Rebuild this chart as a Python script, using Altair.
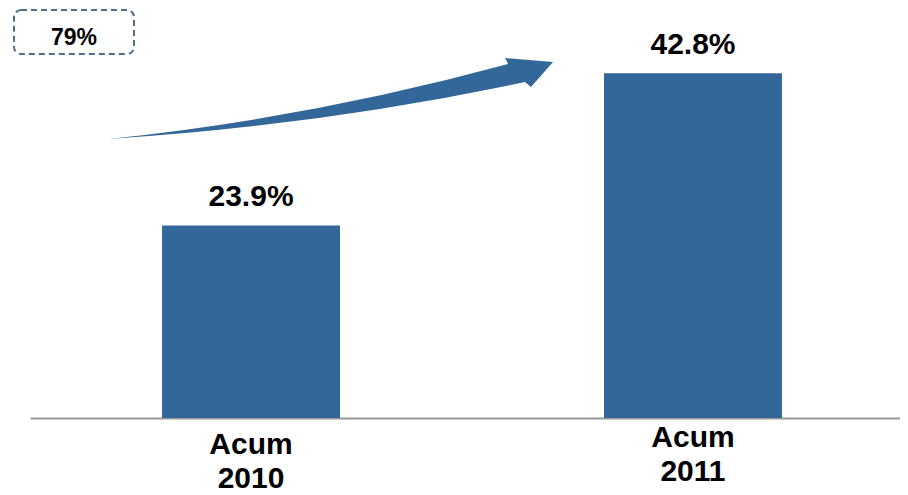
import altair as alt
import pandas as pd

categories = ["Acum 2010", "Acum 2011"]
values = [23.9, 42.8]
labels = ["23.9%", "42.8%"]
growth_label = "79%"

BAR_COLOR = "#336699"
FONT = "Liberation Sans"

df = pd.DataFrame({"cat": categories, "val": values, "lab": labels})

x = alt.X(
    "cat:N",
    sort=categories,
    title=None,
    scale=alt.Scale(paddingInner=0.5973, paddingOuter=0.2829, align=0.528),
    axis=alt.Axis(
        labelExpr="split(datum.label, ' ')",
        labelAngle=0,
        labelFont=FONT,
        labelFontWeight="bold",
        labelFontSize=30,
        labelLineHeight=34,
        labelColor="black",
        labelPadding={"condition": {"test": "datum.value == 'Acum 2011'", "value": 4}, "value": 11},
        ticks=False,
        domainColor="#999999",
        domainWidth=2,
        grid=False,
    ),
)
y = alt.Y("val:Q", scale=alt.Scale(domain=[0, 50.9], nice=False), axis=None)

base = alt.Chart(df)

bars = base.mark_bar(color=BAR_COLOR).encode(x=x, y=y)

text = base.mark_text(
    font=FONT, fontWeight="bold", fontSize=30, dy=-19, baseline="alphabetic", color="black"
).encode(x=x, y=y, text="lab:N")

arrow_path = (
    "M-0.989,0.18 Q-0.1,0.089 0.789,-0.153 L0.776,-0.18 L0.989,-0.162 "
    "L0.891,-0.051 L0.864,-0.073 Q-0.062,0.122 -0.989,0.18 Z"
)
arrow = alt.Chart(pd.DataFrame({"a": [0]})).mark_point(
    shape=arrow_path, filled=True, fill=BAR_COLOR, fillOpacity=1, strokeWidth=0, size=202500, opacity=1
).encode(x=alt.value(300.5), y=alt.value(90.5))

box = alt.Chart(pd.DataFrame({"a": [0]})).mark_rect(
    fill="white", stroke="#4F6F8F", strokeWidth=2, strokeDash=[6, 4], cornerRadius=7
).encode(x=alt.value(-16), x2=alt.value(104), y=alt.value(2), y2=alt.value(46))

box_text = alt.Chart(pd.DataFrame({"t": [growth_label]})).mark_text(
    font=FONT, fontWeight="bold", fontSize=23, baseline="alphabetic", align="center", color="black"
).encode(x=alt.value(44), y=alt.value(37), text="t:N")

chart = (
    alt.layer(bars, text, arrow, box, box_text)
    .properties(
        width=870,
        height=410,
        background="white",
        autosize=alt.AutoSizeParams(type="none"),
        padding={"left": 22, "top": 0, "right": 0, "bottom": 77},
    )
    .configure_view(strokeWidth=0)
)

chart.save("out.html", embed_options={"renderer": "svg", "actions": False})
